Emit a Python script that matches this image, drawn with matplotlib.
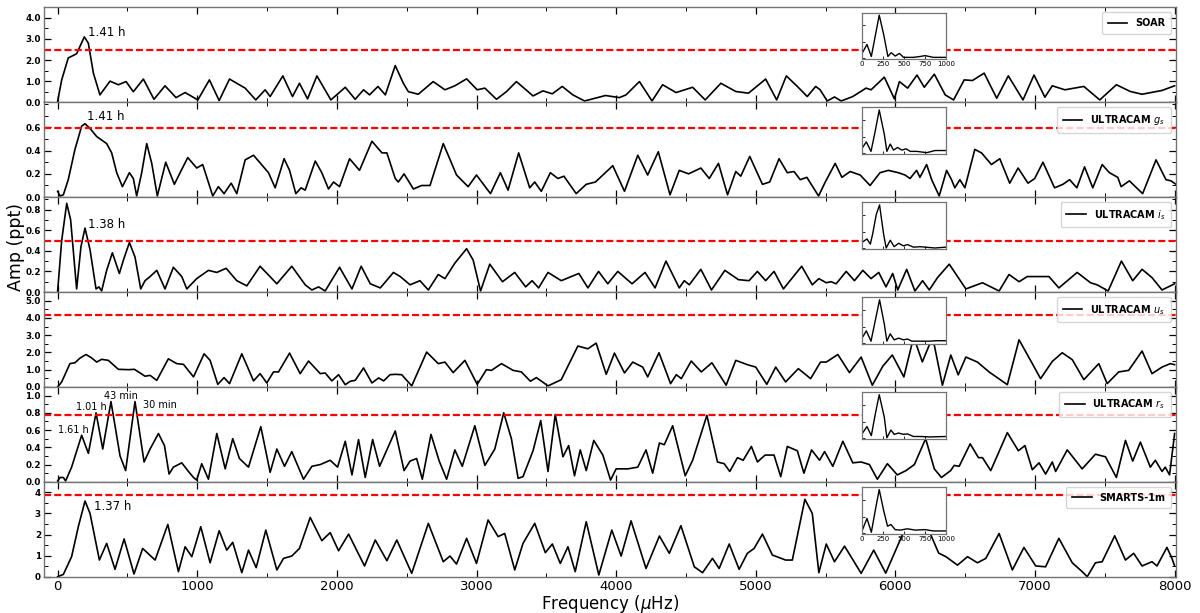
import matplotlib
matplotlib.use('Agg')
import matplotlib.pyplot as plt
from matplotlib.ticker import MultipleLocator, FormatStrFormatter, FixedLocator

plt.rcParams['font.family'] = ['DejaVu Sans']

# ---------------- data (frequency in microHz, amplitude in ppt) ----------------
soar = [(0, 0.05), (29, 1.06), (76, 2.1), (112, 2.22), (136, 2.3), (191, 3.1), (220, 2.8), (256, 1.38),
        (303, 0.35), (375, 1.0), (435, 0.83), (490, 0.98), (542, 0.5), (614, 1.1), (690, 0.14), (769, 0.78),
        (848, 0.22), (913, 0.46), (1004, 0.11), (1087, 1.06), (1157, 0.08), (1231, 1.1), (1343, 0.67),
        (1419, 0.11), (1486, 0.59), (1522, 0.27), (1613, 1.25), (1682, 0.27), (1732, 0.9), (1790, 0.16),
        (1857, 1.25), (1957, 0.11), (2060, 0.71), (2131, 0.14), (2191, 0.59), (2234, 0.35), (2294, 0.75),
        (2347, 0.35), (2418, 1.74), (2476, 0.9), (2512, 0.5), (2583, 0.38), (2690, 0.98), (2774, 0.59),
        (2845, 0.78), (2929, 1.11), (3005, 0.59), (3060, 0.67), (3143, 0.14), (3214, 0.5), (3286, 0.98),
        (3405, 0.3), (3476, 0.54), (3543, 0.4), (3614, 0.75), (3690, 0.35), (3774, 0.06), (3924, 0.32),
        (4024, 0.22), (4071, 0.35), (4167, 0.98), (4257, 0.06), (4333, 0.83), (4429, 0.46), (4548, 0.71),
        (4638, 0.11), (4750, 0.9), (4857, 0.51), (4948, 0.43), (5071, 1.1), (5150, 0.11), (5219, 1.25),
        (5298, 0.75), (5369, 0.27), (5429, 0.75), (5460, 0.6), (5512, 0.06), (5564, 0.25), (5612, 0.06),
        (5695, 0.27), (5790, 0.67), (5826, 0.59), (5921, 1.19), (5993, 0.16), (6029, 0.98), (6088, 0.67),
        (6155, 1.29), (6207, 0.71), (6279, 1.33), (6357, 0.35), (6417, 0.11), (6493, 1.06), (6552, 1.03),
        (6636, 1.38), (6726, 0.19), (6809, 1.25), (6914, 0.11), (6993, 1.29), (7071, 0.24), (7124, 0.78),
        (7214, 0.59), (7350, 0.75), (7464, 0.11), (7583, 0.83), (7683, 0.51), (7767, 0.38), (7910, 0.56),
        (8000, 0.78)]

ucam_g = [(0, 0.05), (17, 0.01), (41, 0.02), (76, 0.15), (124, 0.41), (172, 0.61), (196, 0.63), (232, 0.59),
          (280, 0.52), (351, 0.46), (387, 0.38), (423, 0.21), (464, 0.09), (514, 0.21), (542, 0.16),
          (566, 0.01), (602, 0.21), (638, 0.46), (674, 0.29), (714, 0.01), (774, 0.30), (836, 0.11),
          (877, 0.21), (932, 0.34), (996, 0.25), (1039, 0.28), (1111, 0.01), (1151, 0.09), (1192, 0.03),
          (1243, 0.12), (1283, 0.03), (1343, 0.32), (1403, 0.36), (1474, 0.26), (1510, 0.21), (1558, 0.08),
          (1622, 0.33), (1661, 0.23), (1706, 0.03), (1744, 0.08), (1773, 0.06), (1845, 0.31), (1892, 0.21),
          (1940, 0.07), (1976, 0.13), (2019, 0.09), (2091, 0.33), (2162, 0.23), (2251, 0.48), (2323, 0.38),
          (2358, 0.38), (2418, 0.16), (2440, 0.13), (2481, 0.2), (2548, 0.07), (2607, 0.1), (2667, 0.1),
          (2762, 0.46), (2857, 0.19), (2940, 0.09), (3000, 0.19), (3100, 0.03), (3171, 0.21), (3226, 0.06),
          (3302, 0.38), (3381, 0.08), (3417, 0.13), (3464, 0.05), (3529, 0.21), (3583, 0.16), (3626, 0.18),
          (3714, 0.03), (3786, 0.11), (3852, 0.13), (3976, 0.27), (4060, 0.05), (4155, 0.36), (4226, 0.19),
          (4302, 0.39), (4386, 0.02), (4452, 0.23), (4519, 0.2), (4607, 0.25), (4667, 0.16), (4733, 0.29),
          (4798, 0.02), (4857, 0.22), (4893, 0.18), (4957, 0.35), (5048, 0.11), (5100, 0.13), (5167, 0.33),
          (5226, 0.21), (5274, 0.22), (5319, 0.15), (5366, 0.17), (5450, 0.01), (5498, 0.13), (5569, 0.29),
          (5617, 0.17), (5676, 0.22), (5748, 0.19), (5819, 0.1), (5890, 0.21), (5950, 0.23), (6021, 0.21),
          (6069, 0.19), (6105, 0.16), (6152, 0.23), (6176, 0.17), (6224, 0.28), (6260, 0.15), (6314, 0.01),
          (6367, 0.23), (6402, 0.15), (6426, 0.08), (6462, 0.15), (6498, 0.08), (6569, 0.41), (6617, 0.38),
          (6688, 0.28), (6748, 0.33), (6819, 0.12), (6879, 0.25), (6950, 0.12), (6998, 0.16), (7057, 0.30),
          (7140, 0.08), (7200, 0.11), (7248, 0.15), (7300, 0.08), (7355, 0.26), (7414, 0.08), (7481, 0.28),
          (7533, 0.21), (7593, 0.17), (7617, 0.09), (7676, 0.14), (7771, 0.03), (7867, 0.32), (7938, 0.15),
          (7974, 0.14), (8010, 0.11)]

ucam_i = [(0, 0.01), (29, 0.50), (65, 0.86), (93, 0.70), (136, 0.03), (167, 0.44), (196, 0.62), (232, 0.41),
          (275, 0.03), (296, 0.05), (315, 0.01), (351, 0.21), (392, 0.38), (442, 0.18), (471, 0.31),
          (514, 0.48), (554, 0.34), (595, 0.03), (626, 0.11), (662, 0.15), (710, 0.21), (769, 0.03),
          (829, 0.24), (889, 0.15), (925, 0.03), (996, 0.13), (1080, 0.21), (1140, 0.19), (1207, 0.23),
          (1283, 0.11), (1355, 0.06), (1450, 0.25), (1570, 0.08), (1677, 0.25), (1773, 0.07), (1821, 0.02),
          (1869, 0.05), (1916, 0.01), (2019, 0.24), (2108, 0.03), (2174, 0.25), (2239, 0.08), (2311, 0.04),
          (2405, 0.19), (2454, 0.15), (2524, 0.07), (2595, 0.11), (2655, 0.02), (2726, 0.17), (2774, 0.13),
          (2845, 0.28), (2929, 0.42), (2976, 0.31), (3029, 0.01), (3095, 0.27), (3186, 0.10), (3274, 0.19),
          (3352, 0.05), (3398, 0.11), (3445, 0.04), (3512, 0.19), (3607, 0.11), (3733, 0.18), (3798, 0.04),
          (3874, 0.20), (3940, 0.08), (4012, 0.2), (4114, 0.08), (4207, 0.19), (4279, 0.04), (4357, 0.30),
          (4452, 0.04), (4488, 0.11), (4524, 0.07), (4607, 0.22), (4683, 0.02), (4779, 0.21), (4876, 0.12),
          (4952, 0.11), (5012, 0.2), (5071, 0.11), (5131, 0.2), (5198, 0.03), (5329, 0.25), (5405, 0.07),
          (5452, 0.13), (5505, 0.09), (5540, 0.10), (5576, 0.08), (5648, 0.20), (5707, 0.11), (5767, 0.21),
          (5826, 0.13), (5881, 0.19), (5933, 0.05), (5981, 0.18), (6017, 0.02), (6081, 0.22), (6140, 0.01),
          (6195, 0.11), (6243, 0.02), (6302, 0.14), (6386, 0.27), (6505, 0.03), (6624, 0.09), (6743, 0.01),
          (6814, 0.17), (6886, 0.1), (6945, 0.15), (7100, 0.15), (7171, 0.04), (7302, 0.19), (7398, 0.09),
          (7445, 0.07), (7524, 0.01), (7619, 0.30), (7700, 0.11), (7767, 0.22), (7838, 0.14), (7910, 0.02),
          (8000, 0.08)]

ucam_u = [(0, 0.0), (29, 0.29), (88, 1.35), (124, 1.4), (160, 1.67), (203, 1.88), (240, 1.7), (280, 1.44),
          (315, 1.6), (363, 1.54), (435, 1.02), (507, 1.0), (550, 1.02), (626, 0.62), (662, 0.67), (710, 0.38),
          (793, 1.63), (853, 1.35), (901, 1.31), (973, 0.58), (1049, 1.92), (1092, 1.54), (1147, 0.15),
          (1192, 0.54), (1231, 0.19), (1319, 1.92), (1403, 0.35), (1450, 0.77), (1498, 0.23), (1546, 0.87),
          (1582, 0.87), (1661, 1.96), (1737, 0.77), (1797, 1.5), (1881, 0.77), (1916, 0.81), (1964, 0.35),
          (2012, 0.71), (2060, 0.13), (2096, 0.33), (2131, 0.38), (2191, 1.1), (2251, 0.23), (2299, 0.52),
          (2335, 0.35), (2381, 0.71), (2418, 0.73), (2464, 0.71), (2536, 0.06), (2643, 2.02), (2726, 1.35),
          (2774, 1.44), (2833, 0.83), (2917, 1.54), (3005, 0.15), (3071, 1.0), (3107, 0.96), (3179, 1.35),
          (3262, 0.96), (3321, 0.87), (3386, 0.33), (3429, 0.54), (3512, 0.06), (3607, 0.42), (3726, 2.37),
          (3798, 2.21), (3857, 2.54), (3929, 0.73), (3988, 1.96), (4060, 0.81), (4119, 1.44), (4190, 1.15),
          (4226, 0.58), (4307, 1.98), (4390, 0.19), (4431, 0.71), (4467, 0.48), (4538, 1.5), (4610, 0.87),
          (4686, 1.4), (4788, 0.1), (4857, 1.54), (4940, 1.29), (5000, 1.15), (5079, 0.15), (5143, 1.15),
          (5214, 0.29), (5305, 1.06), (5393, 0.48), (5464, 1.44), (5505, 1.44), (5588, 1.88), (5671, 0.83),
          (5755, 1.73), (5835, 0.1), (5910, 1.2), (5978, 1.85), (6061, 0.58), (6131, 2.9), (6193, 1.45),
          (6267, 2.9), (6337, 0.1), (6397, 1.85), (6450, 0.7), (6505, 1.73), (6588, 1.44), (6671, 0.87),
          (6802, 0.13), (6886, 2.73), (6981, 1.35), (7040, 0.48), (7124, 1.48), (7195, 1.98), (7267, 1.58),
          (7350, 0.42), (7457, 1.35), (7517, 0.19), (7600, 0.87), (7671, 0.96), (7767, 2.08), (7838, 0.77),
          (7910, 1.15), (7969, 1.35), (8000, 1.29)]

ucam_r = [(0, 0.01), (17, 0.05), (41, 0.05), (57, 0.01), (100, 0.17), (172, 0.54), (220, 0.33), (275, 0.8),
          (323, 0.38), (382, 0.93), (447, 0.30), (487, 0.13), (554, 0.93), (619, 0.23), (662, 0.38),
          (722, 0.56), (765, 0.42), (798, 0.09), (829, 0.17), (889, 0.22), (937, 0.12), (973, 0.05),
          (996, 0.02), (1032, 0.21), (1080, 0.03), (1140, 0.56), (1200, 0.15), (1254, 0.5), (1302, 0.27),
          (1367, 0.17), (1455, 0.64), (1522, 0.11), (1570, 0.38), (1625, 0.18), (1677, 0.35), (1761, 0.03),
          (1821, 0.18), (1881, 0.2), (1952, 0.25), (2005, 0.17), (2060, 0.47), (2108, 0.08), (2155, 0.49),
          (2203, 0.05), (2256, 0.49), (2306, 0.18), (2358, 0.37), (2418, 0.59), (2481, 0.13), (2524, 0.24),
          (2571, 0.27), (2612, 0.03), (2674, 0.55), (2733, 0.24), (2786, 0.03), (2845, 0.37), (2898, 0.18),
          (2988, 0.65), (3060, 0.19), (3131, 0.38), (3195, 0.8), (3250, 0.5), (3298, 0.04), (3333, 0.06),
          (3405, 0.36), (3460, 0.71), (3512, 0.12), (3564, 0.78), (3619, 0.29), (3660, 0.42), (3702, 0.07),
          (3743, 0.37), (3786, 0.13), (3840, 0.48), (3905, 0.31), (3960, 0.02), (4000, 0.15), (4083, 0.15),
          (4155, 0.17), (4214, 0.37), (4262, 0.10), (4310, 0.45), (4345, 0.43), (4405, 0.65), (4495, 0.07),
          (4548, 0.25), (4650, 0.77), (4726, 0.23), (4774, 0.21), (4814, 0.12), (4869, 0.28), (4910, 0.25),
          (4969, 0.41), (5012, 0.23), (5067, 0.31), (5131, 0.31), (5179, 0.06), (5226, 0.41), (5298, 0.36),
          (5345, 0.10), (5400, 0.37), (5457, 0.25), (5493, 0.35), (5552, 0.18), (5624, 0.47), (5695, 0.22),
          (5755, 0.23), (5814, 0.2), (5871, 0.03), (5943, 0.21), (6014, 0.08), (6076, 0.13), (6136, 0.2),
          (6217, 0.5), (6279, 0.15), (6330, 0.05), (6396, 0.13), (6421, 0.19), (6457, 0.18), (6536, 0.44),
          (6595, 0.28), (6624, 0.28), (6683, 0.13), (6802, 0.57), (6881, 0.36), (6928, 0.42), (6981, 0.14),
          (7029, 0.22), (7076, 0.09), (7124, 0.23), (7148, 0.12), (7231, 0.37), (7338, 0.15), (7433, 0.32),
          (7505, 0.29), (7583, 0.05), (7648, 0.48), (7700, 0.24), (7755, 0.46), (7826, 0.17), (7862, 0.25),
          (7910, 0.12), (7933, 0.17), (7964, 0.08), (8000, 0.56)]

smarts = [(0, 0.0), (41, 0.11), (100, 0.95), (148, 2.37), (196, 3.59), (232, 3.0), (299, 0.79), (351, 1.58),
          (411, 0.35), (476, 1.79), (547, 0.13), (609, 1.34), (698, 0.79), (789, 2.48), (865, 0.24),
          (913, 1.42), (961, 0.95), (1025, 2.37), (1092, 0.66), (1157, 2.18), (1211, 1.26), (1254, 1.63),
          (1319, 0.19), (1367, 1.26), (1422, 0.43), (1491, 2.21), (1570, 0.32), (1618, 0.87), (1677, 0.98),
          (1732, 1.34), (1809, 2.81), (1892, 1.71), (1952, 2.09), (2012, 1.23), (2084, 2.02), (2198, 0.51),
          (2275, 1.74), (2358, 0.76), (2429, 1.74), (2536, 0.16), (2655, 2.53), (2762, 0.71), (2810, 0.98),
          (2857, 0.6), (2929, 1.82), (3000, 0.63), (3083, 2.69), (3155, 1.9), (3202, 2.05), (3274, 0.32),
          (3333, 1.58), (3417, 2.53), (3493, 1.14), (3543, 1.55), (3600, 0.63), (3655, 1.42), (3707, 0.24),
          (3786, 2.61), (3876, 0.08), (3969, 2.21), (4036, 0.98), (4107, 2.65), (4214, 0.39), (4310, 1.93),
          (4381, 1.11), (4464, 2.42), (4560, 0.47), (4619, 0.19), (4690, 0.87), (4738, 0.39), (4810, 1.55),
          (4881, 0.35), (4940, 1.11), (4988, 1.34), (5048, 2.02), (5119, 1.03), (5214, 0.79), (5262, 0.79),
          (5352, 3.67), (5405, 3.0), (5452, 0.19), (5505, 1.55), (5564, 0.71), (5636, 1.45), (5755, 0.16),
          (5845, 1.26), (5931, 0.17), (6050, 1.98), (6150, 3.0), (6253, 2.0), (6310, 1.12), (6362, 0.95),
          (6445, 0.55), (6517, 0.95), (6588, 0.66), (6648, 0.87), (6743, 2.05), (6838, 0.32), (6921, 1.39),
          (7005, 0.51), (7076, 0.47), (7171, 1.82), (7267, 0.66), (7338, 0.24), (7374, 0.0), (7433, 0.66),
          (7481, 0.71), (7571, 1.94), (7648, 0.79), (7707, 1.11), (7767, 0.51), (7838, 0.71), (7874, 0.51),
          (7945, 1.39), (7981, 0.87), (8000, 0.51)]

# spectral windows shown in the insets (normalised amplitude)
win_soar = [(0, 0.11), (59, 0.32), (111, 0.04), (205, 1.0), (257, 0.56), (308, 0.04), (348, 0.13), (395, 0.05),
            (446, 0.11), (494, 0.02), (612, 0.02), (691, 0.04), (751, 0.06), (849, 0.02), (1000, 0.02)]
win_g = [(0, 0.11), (51, 0.26), (107, 0.04), (150, 0.44), (205, 1.0), (265, 0.44), (296, 0.04), (336, 0.21),
         (375, 0.07), (423, 0.13), (474, 0.07), (525, 0.1), (573, 0.04), (652, 0.04), (770, 0.01), (869, 0.06),
         (1000, 0.06)]
win_i = [(0, 0.13), (59, 0.21), (99, 0.09), (126, 0.32), (170, 0.78), (209, 1.0), (257, 0.32), (288, 0.0),
         (336, 0.18), (383, 0.03), (435, 0.11), (494, 0.05), (541, 0.08), (612, 0.02), (691, 0.03), (869, 0.0),
         (1000, 0.02)]
win_u = [(0, 0.11), (51, 0.28), (107, 0.04), (209, 1.0), (265, 0.44), (296, 0.04), (336, 0.21), (383, 0.07),
         (435, 0.11), (494, 0.07), (541, 0.09), (593, 0.04), (691, 0.04), (810, 0.04), (869, 0.05), (1000, 0.05)]
win_r = [(0, 0.09), (59, 0.26), (111, 0.05), (158, 0.55), (205, 1.0), (265, 0.48), (296, 0.0), (344, 0.18),
         (383, 0.08), (435, 0.11), (494, 0.08), (541, 0.09), (612, 0.03), (691, 0.03), (810, 0.02), (1000, 0.03)]
win_smarts = [(0, 0.04), (59, 0.33), (111, 0.01), (158, 0.52), (205, 1.0), (257, 0.52), (304, 0.15),
              (344, 0.19), (395, 0.07), (454, 0.06), (541, 0.09), (632, 0.06), (751, 0.07), (849, 0.04),
              (1000, 0.04)]

labels = ['SOAR', 'ULTRACAM $g_s$', 'ULTRACAM $i_s$', 'ULTRACAM $u_s$', 'ULTRACAM $r_s$', 'SMARTS-1m']
thresholds = [2.5, 0.59, 0.49, 4.18, 0.78, 3.87]
y_max = [4.5, 0.815, 0.92, 5.5, 1.1, 4.5]
y_major = [1.0, 0.2, 0.2, 1.0, 0.2, 1.0]
y_minor = [0.5, 0.1, 0.1, 0.5, 0.1, 0.5]
y_fmt = ['%.1f', '%.1f', '%.1f', '%.1f', '%.1f', '%d']
# annotations: (text, freq, amp, fontsize)
notes = [[('1.41 h', 215, 3.3, 8.5)],
         [('1.41 h', 208, 0.69, 8.5)],
         [('1.38 h', 215, 0.65, 8.5)],
         [],
         [('1.61 h', 5, 0.6, 7), ('1.01 h', 131, 0.87, 7), ('43 min', 334, 1.0, 7), ('30 min', 614, 0.885, 7)],
         [('1.37 h', 262, 3.32, 8.5)]]

series = [soar, ucam_g, ucam_i, ucam_u, ucam_r, smarts]
windows = [win_soar, win_g, win_i, win_u, win_r, win_smarts]

# ---------------- figure ----------------
fig = plt.figure(figsize=(12, 6.13), dpi=100)
gs = fig.add_gridspec(6, 1, left=0.0364, right=0.98, top=0.988, bottom=0.0592, hspace=0)
spine_col = '0.45'

for i in range(6):
    ax = fig.add_subplot(gs[i])
    f = [p[0] for p in series[i]]
    a = [p[1] for p in series[i]]
    ax.plot(f, a, color='black', lw=1.2, label=labels[i], solid_joinstyle='round')
    ax.axhline(thresholds[i], color='red', ls='--', lw=1.6, dashes=(3.2, 1.4))
    ax.set_xlim(-100, 8010)
    ax.set_ylim(0, y_max[i])
    ax.xaxis.set_major_locator(MultipleLocator(1000))
    ax.xaxis.set_minor_locator(MultipleLocator(500))
    if i == 1:
        ax.yaxis.set_major_locator(FixedLocator([0.0, 0.2, 0.4, 0.6]))
    else:
        ax.yaxis.set_major_locator(MultipleLocator(y_major[i]))
    ax.yaxis.set_minor_locator(MultipleLocator(y_minor[i]))
    ax.yaxis.set_major_formatter(FormatStrFormatter(y_fmt[i]))
    ax.tick_params(which='both', direction='in', top=True, right=True, color='black')
    ax.tick_params(which='major', length=5, width=0.9)
    ax.tick_params(which='minor', length=3, width=0.7)
    ax.tick_params(axis='y', labelsize=6.3, pad=2)
    for lab in ax.get_yticklabels():
        lab.set_fontweight('bold')
    if i < 5:
        ax.tick_params(axis='x', labelbottom=False)
    else:
        ax.tick_params(axis='x', labelsize=9.5, pad=2.5)
    for s in ax.spines.values():
        s.set_color(spine_col)
        s.set_linewidth(1.0)
    ax.legend(loc='upper right', handlelength=2.0, borderpad=0.6,
              prop={'weight': 'bold', 'size': 7})
    for txt, fx, ay, fs in notes[i]:
        ax.text(fx, ay, txt, fontsize=fs, va='center', ha='left')

    # inset with the spectral window (opaque, hides what lies behind it)
    ins = ax.inset_axes([0.7227, 0.455, 0.0742, 0.49])
    wf = [p[0] for p in windows[i]]
    wa = [p[1] for p in windows[i]]
    ins.plot(wf, wa, color='black', lw=1.0)
    ins.set_xlim(0, 1000)
    ins.set_ylim(-0.02, 1.06)
    ins.set_xticks([0, 250, 500, 750, 1000])
    ins.set_yticks([0.0, 0.37, 0.77])
    ins.tick_params(which='both', direction='in', length=2, width=0.6, labelsize=5, pad=1.5)
    ins.tick_params(axis='y', labelleft=False)
    if i not in (0, 5):
        ins.tick_params(axis='x', labelbottom=False)
    for s in ins.spines.values():
        s.set_color(spine_col)
        s.set_linewidth(0.9)

fig.text(0.013, 0.5976, 'Amp (ppt)', rotation=90, va='center', ha='center', fontsize=12.5)
fig.text(0.508, 0.015, r'Frequency ($\mu$Hz)', va='center', ha='center', fontsize=12)

fig.savefig('out.png', dpi=100)
